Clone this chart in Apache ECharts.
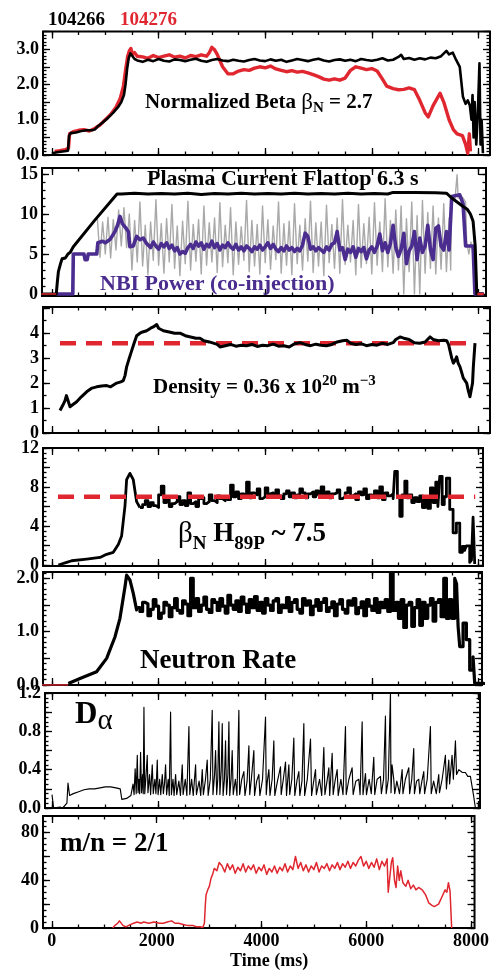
<!DOCTYPE html>
<html><head><meta charset="utf-8">
<script src="https://cdn.jsdelivr.net/npm/echarts@6/dist/echarts.min.js"></script>
<style>html,body{margin:0;padding:0;background:#fff}#c{width:492px;height:971px}</style>
</head><body><div id="c"></div>
<script>
// ---------------- DATA (time in ms) ----------------
const shotLabels = ['104266', '104276'];
const timeLabels = [0, 2000, 4000, 6000, 8000];
const betaLabels = [0, 1, 2, 3];
const ipLabels = [0, 5, 10, 15];
const neLabels = [0, 1, 2, 3, 4];
const bhLabels = [0, 4, 8, 12];
const neutLabels = [0, 1, 2];
const daLabels = [0, 0.4, 0.8, 1.2];
const mnLabels = [0, 40, 80];

// Panel 1: normalized beta
const beta66Head = [[0,0.05],[100,0.08],[200,0.1],[300,0.12],[320,0.55],[350,0.62],[450,0.64],[550,0.68],[650,0.7],[750,0.7],[800,0.72],[850,0.8],[950,0.92],[1050,1.05],[1150,1.2],[1250,1.38],[1300,1.5],[1350,1.7],[1380,2.0],[1410,2.45],[1440,2.75],[1470,2.88],[1500,2.82],[1550,2.72]];
const beta66FlatStart = 1600, beta66FlatStep = 100;
const beta66Flat = [2.68,2.64,2.70,2.66,2.72,2.67,2.65,2.71,2.69,2.66,2.70,2.73,2.67,2.64,2.69,2.72,2.68,2.66,2.70,2.67,2.65,2.69,2.72,2.68,2.66,2.71,2.67,2.70,2.64,2.68,2.72,2.69,2.66,2.70,2.73,2.68,2.65,2.69,2.71,2.67,2.70,2.66,2.72,2.69,2.67,2.70,2.74,2.68,2.70];
const beta66Tail = [[6500,2.78],[6550,2.84],[6600,2.72],[6700,2.75],[6800,2.70],[6900,2.74],[7000,2.71],[7100,2.76],[7200,2.74],[7300,2.8],[7400,2.95],[7450,2.85],[7520,2.9],[7580,2.7],[7650,2.5],[7710,1.65],[7760,1.45],[7800,1.55],[7840,1.4],[7870,1.0],[7890,1.7],[7910,0.5],[7930,1.5],[7960,0.3],[7990,1.2],[8020,2.6],[8040,0.3],[8060,1.0],[8085,0.05]];
const beta76Head = [[50,0.1],[150,0.12],[250,0.15],[310,0.2],[330,0.6],[400,0.66],[500,0.7],[600,0.72],[700,0.68],[800,0.75],[900,0.85],[1000,1.0],[1100,1.15],[1200,1.35],[1280,1.6],[1340,1.95],[1380,2.4],[1420,2.8],[1450,2.95],[1480,3.02],[1510,2.85],[1550,2.9],[1600,2.8]];
const beta76FlatStart = 1700, beta76FlatStep = 100;
const beta76Flat = [2.78,2.74,2.82,2.76,2.80,2.84,2.77,2.80,2.75,2.82,2.79,2.84,2.80];
const beta76Tail = [[2950,2.9],[3000,3.05],[3050,2.98],[3100,2.85],[3200,2.5],[3300,2.3],[3400,2.3],[3500,2.38],[3600,2.42],[3700,2.40],[3800,2.46],[3900,2.50],[4000,2.47],[4100,2.52],[4200,2.44],[4300,2.40],[4400,2.36],[4500,2.39],[4600,2.35],[4700,2.37],[4800,2.33],[4900,2.28],[5000,2.22],[5100,2.15],[5200,2.12],[5300,2.16],[5400,2.12],[5500,2.18],[5600,2.40],[5700,2.50],[5800,2.46],[5900,2.42],[6000,2.45],[6100,2.38],[6200,2.15],[6280,1.95],[6400,1.88],[6500,1.85],[6600,1.86],[6700,1.9],[6800,1.85],[6900,1.55],[7000,1.2],[7060,1.08],[7150,1.4],[7280,1.75],[7350,1.5],[7450,1.0],[7530,0.72],[7600,0.6],[7700,0.55],[7760,0.3],[7800,0.05],[7830,0.6],[7850,0.1]];

// Panel 2: plasma current (black), NBI raw (gray), NBI smoothed (purple)
const ipHead = [[-200,0],[80,0],[100,1.5],[120,2.8],[160,3.8],[190,4.4],[220,4.6],[250,4.5],[300,5.0],[340,5.2],[400,5.9],[800,9.2],[1220,12.5]];
const ipFlatStart = 1300, ipFlatStep = 250;
const ipFlat = [12.5,12.6,12.5,12.55,12.5,12.6,12.45,12.55,12.5,12.6,12.5,12.55,12.5,12.6,12.5,12.55,12.5,12.6,12.5,12.55,12.5];
const ipTail = [[6400,12.7],[6800,12.7],[7200,12.65],[7400,12.6],[7500,12.0],[7600,11.5],[7700,11.0],[7790,10.6],[7850,10.0],[7900,9.1],[7940,6.0],[7970,0],[8100,0]];
const nbiRawStart = 850, nbiRawStep = 50;
const nbiRaw = [9.5,4.6,9.0,5.0,9.6,4.5,9.3,5.5,10.5,6.0,10.8,5.8,10.0,
3.0,9.2,4.0,11.5,3.5,8.6,2.4,9.0,4.2,11.8,
3.6,8.8,2.6,9.4,4.0,11.2,3.2,8.5,2.3,9.1,
3.8,11.6,3.0,8.7,4.1,9.3,2.5,11.0,3.6,8.9,
4.0,9.5,2.7,11.4,3.4,8.6,3.9,10.8,2.4,9.0,
3.7,8.4,4.2,11.7,2.8,9.2,3.5,8.7,2.5,11.0,
3.9,9.3,3.1,8.5,4.3,11.5,2.6,8.8,3.6,9.1,
2.4,11.3,3.8,8.6,3.0,9.4,4.1,11.6,2.7,8.9,
3.5,9.0,2.3,11.1,3.9,8.7,3.2,9.5,2.6,11.8,
3.7,8.6,4.0,9.2,2.4,11.2,3.3,8.8,3.8,9.6,
2.5,11.4,3.6,9.0,2.8,11.9,3.4,9.2,2.6,10.5,
3.0,11.0,0.0,9.4,2.8,11.5,0.0,9.8,0.0,11.7,
2.6,10.2,3.2,11.0,2.5,9.5,3.1,11.3,2.8,9.5];
const nbiRawTail = [[7480,3.0],[7500,12.0],[7560,11.8],[7600,14.9],[7620,12.0],[7700,12.1],[7760,11.5],[7780,6.5],[7820,5.0],[7860,6.5],[7900,5.0],[7930,0]];
const nbiHead = [[80,0],[390,0],[400,5.0],[600,5.0],[620,4.3],[660,4.3],[680,5.0],[840,5.0],[860,6.4],[950,6.6],[1000,6.4],[1087,6.8],[1181,7.8],[1230,8.6],[1275,9.7],[1320,8.8],[1380,8.3],[1431,7.8],[1462,5.9],[1525,6.0],[1587,7.2],[1650,6.8],[1712,7.0],[1775,6.3]];
const nbiStart = 1800, nbiStep = 50;
const nbiVals = [6.2,5.8,6.5,6.0,5.6,6.3,5.9,6.4,5.7,6.1,5.4,5.8,5.0,5.3,5.1,5.8,6.2,5.7,6.5,6.0,6.4,5.6,6.2,5.9,6.6,5.8,6.3,5.5,6.1,5.8,6.4,5.9,5.6,6.2,5.5,5.9,5.4,6.0,5.7,5.3,5.9,5.6,6.1,5.5,5.9,6.4,5.7,6.2,5.6,5.3,5.8,5.4,6.0,5.5,5.8,5.3,5.7,5.4,6.1,7.6,7.2,5.6,5.9,5.4,5.8,5.5,5.2,5.9,5.5,6.2,6.4,7.8,5.5,5.8,4.3,5.6,5.2,5.9,4.6,5.7,5.3,5.8,4.4,5.5,5.9,5.2,6.0,7.5,5.4,6.4,5.2,6.3,8.6,5.8,4.7,5.6,7.6,3.8,5.4,6.0,7.8,4.3,7.0,5.2,6.0,8.6,5.6,4.3,8.2,8.5,6.0,5.5,7.8,5.5];
const nbiTail = [[7500,12.2],[7650,12.4],[7712,11.3],[7760,6.0],[7900,6.0],[7935,0],[8100,0]];
const ipRedA = [[-200,0],[80,0]];
const ipRedB = [[7980,0],[8100,0]];

// Panel 3: density (10^19 m^-3)
const densityRef = 3.6;
const densityRefSpan = [150, 7940];
const density = [[150,0.9],[200,1.1],[244,1.3],[270,1.5],[306,1.45],[338,1.05],[400,1.15],[463,1.25],[550,1.45],[650,1.65],[750,1.8],[838,1.85],[930,1.88],[1026,1.9],[1100,1.85],[1213,2.0],[1290,2.05],[1338,2.1],[1370,2.3],[1400,2.65],[1450,3.0],[1495,3.3],[1540,3.6],[1589,3.9],[1650,4.0],[1700,4.05],[1776,4.1],[1850,4.2],[1900,4.25],[1964,4.35],[2000,4.2],[2089,4.1],[2200,4.05],[2300,4.0],[2401,4.0],[2500,3.9],[2600,3.85],[2700,3.8],[2777,3.8],[2850,3.7],[2950,3.65],[3027,3.6],[3100,3.55],[3152,3.45],[3250,3.5],[3350,3.55],[3450,3.48],[3550,3.52],[3650,3.5],[3750,3.55],[3850,3.47],[3950,3.52],[4050,3.5],[4150,3.56],[4250,3.48],[4350,3.5],[4450,3.45],[4550,3.58],[4650,3.62],[4750,3.55],[4850,3.5],[4950,3.56],[5050,3.52],[5150,3.5],[5250,3.55],[5350,3.65],[5450,3.7],[5528,3.72],[5600,3.6],[5700,3.55],[5800,3.58],[5900,3.5],[6000,3.55],[6100,3.52],[6200,3.6],[6300,3.55],[6400,3.62],[6450,3.75],[6529,3.85],[6600,3.8],[6700,3.75],[6800,3.62],[6900,3.6],[7000,3.65],[7092,3.85],[7150,3.75],[7250,3.7],[7350,3.72],[7405,3.7],[7440,3.55],[7467,3.3],[7500,3.0],[7530,2.8],[7560,2.9],[7592,3.05],[7620,2.8],[7655,2.65],[7690,2.4],[7717,2.2],[7750,2.1],[7780,2.0],[7810,1.7],[7842,1.45],[7870,1.5],[7890,2.0],[7905,2.65],[7936,3.6]];

// Panel 4: betaN * H89P
const bhRef = 7.0;
const bhRefSpan = [113, 7940];
const bhHead = [[119,0],[275,0.27],[369,0.44],[650,0.61],[900,0.78],[1025,1.1],[1150,1.3],[1244,2.1],[1306,2.98],[1369,6.04],[1400,8.75],[1462,9.4],[1525,8.75],[1587,6.5],[1650,5.9]];
const bhStart = 1650, bhStep = 50;
const bhVals = [5.9,6.2,6.6,6.0,6.4,6.1,5.9,7.2,8.1,6.4,
6.7,6.0,6.3,6.5,7.0,6.2,6.6,6.1,7.4,6.3,
6.5,6.0,6.8,6.9,6.3,6.5,7.2,6.6,6.4,7.1,
6.8,6.6,7.0,6.7,8.2,7.0,7.5,6.8,7.3,7.1,
8.5,6.9,7.4,7.2,7.8,6.8,7.0,7.9,7.3,7.4,
7.0,7.7,7.1,6.8,7.3,7.6,7.0,7.4,6.9,7.2,
7.8,7.4,6.9,7.3,7.5,7.0,7.6,7.2,8.0,7.1,
7.5,6.9,7.3,7.4,7.7,6.8,7.0,7.4,7.9,7.1,
7.3,6.7,7.5,7.2,7.8,6.8,7.2,7.0,7.6,6.9,
8.0,6.7,7.4,7.1,7.3,6.8];
const bhTail = [[6431,9.6],[6480,7.0],[6525,5.0],[6570,7.2],[6619,8.6],[6660,6.9],[6700,7.2],[6750,6.4],[6800,6.9],[6850,6.5],[6900,7.1],[6950,5.9],[7000,6.8],[7050,5.8],[7100,7.9],[7150,6.4],[7200,8.5],[7240,6.0],[7275,9.1],[7320,6.2],[7360,7.0],[7400,8.9],[7462,5.7],[7525,3.3],[7587,4.3],[7650,1.3],[7700,1.9],[7740,1.5],[7775,1.97],[7837,0.27],[7870,0.5],[7900,4.9],[7931,0.1]];

// Panel 5: neutron rate
const neutRed = [[-200,0],[300,0]];
const neutHead = [[306,0.03],[525,0.12],[837,0.25],[1025,0.5],[1181,0.9],[1275,1.25],[1369,1.84],[1400,2.06],[1462,1.97],[1525,1.72],[1587,1.41],[1600,1.45]];
const neutStart = 1600, neutStep = 50;
const neutVals = [1.45,1.38,1.55,1.52,1.3,1.42,1.6,1.48,1.25,1.35,
1.55,1.5,1.28,1.45,1.62,1.4,1.35,1.58,1.52,1.3,
2.0,1.45,1.62,1.38,1.5,1.65,1.42,1.36,1.6,1.55,
1.4,1.62,1.48,1.35,1.68,1.5,1.42,1.58,1.38,1.65,
1.52,1.36,1.6,1.45,1.66,1.4,1.55,1.35,1.62,1.5,
1.4,1.58,1.62,1.36,1.5,1.45,1.64,1.38,1.55,1.6,
1.42,1.35,1.62,1.5,1.58,1.32,1.48,1.6,1.4,1.55,
1.62,1.38,1.45,1.56,1.3,1.52,1.6,1.42,1.35,1.58,
1.5,1.62,1.34,1.45,1.56,1.3,1.6,1.48,1.4,1.62,
1.36,1.55,1.45,1.6,1.38,2.1,1.4,1.55,1.25,1.6,
1.08,1.5,1.55,1.1,1.45,1.6,1.12,1.55,1.25,1.5,
1.62,1.2,1.55,1.6,1.28,2.0,1.25,1.6];
const neutTail = [[7500,1.25],[7556,2.0],[7590,1.9],[7619,1.1],[7650,0.72],[7712,1.16],[7775,0.85],[7837,0.28],[7900,0.53],[7931,0.03],[8100,0.0]];

// Panel 6: D-alpha
const dalpha = [[0,0.14],[30,0.0],[150,0.01],[200,0.0],[280,0.05],[300,0.26],[330,0.13],[400,0.15],[500,0.17],[600,0.19],[700,0.2],[800,0.2],[900,0.21],[1000,0.22],[1100,0.22],[1200,0.21],[1280,0.2],[1310,0.09],[1400,0.1],[1480,0.13],[1520,0.25],[1540,0.14],[1560,0.41],[1580,0.15],[1600,0.55],[1615,0.16],[1630,0.3],[1645,0.15],[1662,0.58],[1680,0.16],[1700,0.35],[1712,0.15],[1725,1.05],[1740,0.15],[1760,0.3],[1787,0.55],[1800,0.16],[1830,0.35],[1850,0.14],[1881,0.45],[1900,0.15],[1930,0.3],[1950,0.15],[1975,0.5],[1990,0.14],[2020,0.3],[2040,0.14],[2069,0.35],[2090,0.15],[2110,0.25],[2131,0.45],[2150,0.14],[2180,0.3],[2200,0.13],[2225,1.0],[2240,0.14],[2270,0.3],[2290,0.13],[2319,0.35],[2340,0.14],[2380,0.28],[2410,0.13],[2444,0.45],[2460,0.14],[2500,0.3],[2530,0.13],[2569,0.85],[2585,0.14],[2620,0.3],[2650,0.13],[2694,0.45],[2710,0.14],[2760,0.28],[2790,0.13],[2819,0.4],[2840,0.14],[2880,0.3],[2912,0.5],[2930,0.13],[2970,0.3],[3006,1.02],[3020,0.14],[3050,0.35],[3069,0.6],[3090,0.14],[3110,0.3],[3131,0.9],[3150,0.14],[3175,0.4],[3194,0.88],[3210,0.13],[3235,0.3],[3256,0.7],[3275,0.14],[3300,0.35],[3319,0.9],[3335,0.13],[3360,0.3],[3381,0.6],[3400,0.14],[3440,0.3],[3470,0.13],[3506,1.02],[3520,0.14],[3560,0.3],[3600,0.38],[3620,0.13],[3660,0.28],[3694,0.65],[3710,0.14],[3740,0.3],[3787,0.6],[3800,0.13],[3840,0.28],[3881,0.35],[3900,0.13],[3950,0.3],[4006,0.95],[4020,0.14],[4040,0.28],[4069,0.4],[4090,0.13],[4130,0.3],[4162,0.7],[4180,0.13],[4230,0.28],[4287,0.43],[4300,0.14],[4340,0.3],[4381,0.48],[4400,0.13],[4444,0.45],[4460,0.14],[4500,0.3],[4537,0.73],[4555,0.13],[4600,0.3],[4631,0.38],[4650,0.13],[4690,0.28],[4725,0.88],[4740,0.13],[4790,0.3],[4850,0.72],[4870,0.13],[4910,0.28],[4944,0.4],[4960,0.14],[5020,0.3],[5060,0.13],[5100,0.63],[5120,0.14],[5160,0.28],[5194,0.42],[5210,0.13],[5256,0.57],[5275,0.14],[5310,0.28],[5350,0.4],[5370,0.13],[5420,0.3],[5460,0.14],[5506,0.85],[5520,0.14],[5570,0.3],[5631,0.42],[5650,0.14],[5700,0.28],[5756,0.3],[5780,0.14],[5819,0.9],[5835,0.14],[5881,0.36],[5900,0.14],[5950,0.3],[5990,0.15],[6037,0.53],[6055,0.14],[6100,0.3],[6162,0.33],[6180,0.15],[6220,0.3],[6256,0.96],[6270,0.15],[6310,0.3],[6350,1.2],[6360,0.16],[6380,0.45],[6412,0.3],[6430,0.15],[6470,0.28],[6506,0.3],[6520,0.15],[6569,0.4],[6585,0.15],[6630,0.3],[6694,0.42],[6710,0.15],[6750,0.3],[6787,0.62],[6800,0.15],[6840,0.28],[6881,0.3],[6900,0.15],[6940,0.28],[6975,0.38],[6990,0.15],[7040,0.3],[7100,0.85],[7115,0.15],[7160,0.28],[7194,0.3],[7210,0.15],[7256,0.35],[7270,0.16],[7320,0.3],[7381,0.55],[7400,0.2],[7444,0.5],[7460,0.25],[7506,0.55],[7530,0.3],[7569,0.7],[7590,0.35],[7631,0.4],[7700,0.37],[7756,0.37],[7800,0.33],[7850,0.33],[7912,0.12],[7944,0.0]];

// Panel 7: m/n = 2/1 mode amplitude
const mnHead = [[1162,0],[1200,2],[1256,4],[1290,6],[1319,5],[1360,2],[1412,1],[1460,2],[1506,3],[1560,4],[1631,5],[1700,4],[1756,5],[1850,4],[1950,5],[2050,4],[2131,4],[2200,5],[2287,6],[2350,4],[2420,4],[2506,3],[2600,2],[2700,2],[2756,1],[2830,1],[2881,0.5],[2912,4],[2930,20],[2944,28],[2975,32],[3006,35],[3040,42],[3069,45],[3100,50],[3150,48],[3194,55]];
const mnStart = 3250, mnStep = 50;
const mnVals = [52,47,54,49,53,46,51,48,54,47,52,49,53,46,51,48,53,45,50,47,52,46,51,48,54,47,52,49,60,50,55,48,53,47,52,49,55,47,52,50,54,48,53,50,55,49,54,51,56,50,55,52,57,60,52,56,50,55,51,58,49,56,52,58];
const mnTail = [[6400,56],[6420,30],[6444,29],[6480,55],[6506,59],[6540,40],[6569,34],[6600,52],[6631,40],[6660,48],[6700,38],[6756,35],[6800,40],[6850,33],[6900,36],[6950,32],[7000,34],[7069,32],[7100,30],[7131,28],[7160,25],[7194,21],[7256,19],[7300,18],[7381,20],[7444,26],[7506,32],[7540,30],[7569,38],[7600,31],[7631,0]];

// ---------------- BUILD ----------------
function sampled(start, step, vals) { return vals.map((v, i) => [start + i * step, v]); }
const FF = '"Liberation Serif","Times New Roman",serif';
const RED = '#e0262f', PURPLE = '#4a2d8f', GRAY = '#a9a9a9';

const layout = [
  {l:43, r:490, t:31.5, b:155, ymin:0, ymax:3.5, lab:betaLabels, dec:1, maj:0.5, mnr:0.1},
  {l:42, r:486, t:168, b:296, ymin:-0.25, ymax:15.75, lab:ipLabels, dec:0, maj:5, mnr:1},
  {l:43, r:490, t:307, b:433, ymin:0, ymax:5.05, lab:neLabels, dec:0, maj:1, mnr:0.5},
  {l:43, r:483, t:448, b:566, ymin:-0.1, ymax:12, lab:bhLabels, dec:0, maj:2, mnr:0.5},
  {l:43, r:482, t:572, b:685, ymin:0, ymax:2.12, lab:neutLabels, dec:1, maj:0.5, mnr:0.1},
  {l:45, r:480, t:693, b:808, ymin:0, ymax:1.2, lab:daLabels, dec:1, maj:0.2, mnr:0.05},
  {l:43, r:482, t:816, b:928, ymin:0, ymax:94, lab:mnLabels, dec:0, maj:20, mnr:5}
];
const X0PX = 52, PX_PER_MS = 0.0533;
function tickList(a, b, s) { const out = []; const k0 = Math.ceil(a / s - 1e-9); for (let k = k0; k * s <= b + 1e-9; k++) out.push(+(k * s).toFixed(6)); return out; }

const grids = [], xAxes = [], yAxes = [], series = [];
const axX = [], axY = [];
layout.forEach((p, i) => {
  grids.push({left:p.l, top:p.t, width:p.r - p.l, height:p.b - p.t, show:true, borderColor:'#000', borderWidth:2, backgroundColor:'rgba(0,0,0,0)', containLabel:false});
  const xmin = (p.l - X0PX) / PX_PER_MS, xmax = (p.r - X0PX) / PX_PER_MS;
  const xMaj = tickList(xmin, xmax, 2000), xMin = tickList(xmin, xmax, 500);
  const yMaj = tickList(p.ymin, p.ymax, p.maj), yMin = tickList(p.ymin, p.ymax, p.mnr);
  const last = i === layout.length - 1;
  axX.push(xAxes.length);
  [['bottom', xMaj, 7, true], ['bottom', xMin, 3.5, false], ['top', xMaj, 7, false], ['top', xMin, 3.5, false]].forEach(([pos, ticks, len, lab]) => {
    xAxes.push({type:'value', gridIndex:i, min:xmin, max:xmax, position:pos,
      axisLine:{show:false, onZero:false}, splitLine:{show:false},
      axisTick:{show:true, inside:true, length:len, customValues:ticks, lineStyle:{color:'#000', width:1.3}},
      axisLabel:{show: lab && last, customValues: timeLabels, margin:4, fontFamily:FF, fontWeight:'bold', fontSize:18, color:'#000', formatter: v => String(v)}});
  });
  axY.push(yAxes.length);
  [['left', yMaj, 7, true], ['left', yMin, 3.5, false], ['right', yMaj, 7, false], ['right', yMin, 3.5, false]].forEach(([pos, ticks, len, lab]) => {
    yAxes.push({type:'value', gridIndex:i, min:p.ymin, max:p.ymax, position:pos,
      axisLine:{show:false, onZero:false}, splitLine:{show:false},
      axisTick:{show:true, inside:true, length:len, customValues:ticks, lineStyle:{color:'#000', width:1.3}},
      axisLabel:{show: lab, customValues: p.lab, margin:4, fontFamily:FF, fontWeight:'bold', fontSize:18, color:'#000', formatter: v => Number(v).toFixed(p.dec)}});
  });
});
function line(pi, data, color, width, z, extra) {
  series.push(Object.assign({type:'line', xAxisIndex:axX[pi], yAxisIndex:axY[pi], data:data, showSymbol:false, symbol:'none',
    animation:false, silent:true, z:z, lineStyle:{color:color, width:width, join:'round'}}, extra || {}));
}
// Panel 1
line(0, beta76Head.concat(sampled(beta76FlatStart, beta76FlatStep, beta76Flat), beta76Tail), RED, 3.4, 2);
line(0, beta66Head.concat(sampled(beta66FlatStart, beta66FlatStep, beta66Flat), beta66Tail), '#000', 2.6, 3);
// Panel 2
line(1, sampled(nbiRawStart, nbiRawStep, nbiRaw).concat(nbiRawTail), GRAY, 1.4, 2);
line(1, nbiHead.concat(sampled(nbiStart, nbiStep, nbiVals), nbiTail), PURPLE, 3.6, 3);
line(1, ipHead.concat(sampled(ipFlatStart, ipFlatStep, ipFlat), ipTail), '#000', 3, 4);
line(1, ipRedA, RED, 1.5, 5);
line(1, ipRedB, RED, 2.5, 5);
// Panel 3
line(2, [[densityRefSpan[0], densityRef], [densityRefSpan[1], densityRef]], RED, 4.5, 2, {lineStyle:{color:RED, width:4.5, type:[16,10]}});
line(2, density, '#000', 3, 3);
// Panel 4
line(3, [[bhRefSpan[0], bhRef], [bhRefSpan[1], bhRef]], RED, 4.5, 4, {lineStyle:{color:RED, width:4.5, type:[16,10]}});
line(3, bhHead, '#000', 2.8, 3);
line(3, sampled(bhStart, bhStep, bhVals).concat(bhTail), '#000', 2.8, 3, {step:'end'});
// Panel 5
line(4, neutRed, RED, 1.5, 2);
line(4, neutHead, '#000', 3.2, 3);
line(4, sampled(neutStart, neutStep, neutVals).concat(neutTail), '#000', 3.2, 3, {step:'end'});
// Panel 6
line(5, dalpha, '#000', 1.15, 3);
// Panel 7
line(6, mnHead.concat(sampled(mnStart, mnStep, mnVals), mnTail), RED, 1.5, 3);

// ---------------- TEXT ----------------
function rt(x, yTop, text, rich) {
  return {type:'text', left:x, top:yTop, z:100, silent:true,
    style:{text:text, rich:rich, fill:'#000', font:'bold 20px ' + FF}};
}
function R(size, weight, color, pad) {
  const o = {fontFamily:FF, fontSize:size, fontWeight:weight || 'bold', fill:color || '#000'};
  if (pad) o.padding = pad;
  return o;
}
const graphics = [
  rt(48, 11, '{a|' + shotLabels[0] + '}', {a:R(19)}),
  rt(120, 11, '{a|' + shotLabels[1] + '}', {a:R(19, 'bold', RED)}),
  rt(145, 91, '{m|Normalized Beta }{g|β}{s|N}{m| = 2.7}', {m:R(21), g:R(23, 'normal'), s:R(15, 'bold', '#000', [12,0,0,0])}),
  rt(147, 168, '{m|Plasma Current Flattop 6.3 s}', {m:R(22)}),
  rt(100, 273, '{m|NBI Power (co-injection)}', {m:R(22, 'bold', PURPLE)}),
  rt(153, 374, '{m|Density = 0.36 x 10}{p|20}{m| m}{p|−3}', {m:R(21), p:R(15, 'bold', '#000', [0,0,12,0])}),
  rt(178, 520, '{g|β}{s|N}{m| H}{s|89P}{m| ~ 7.5}', {m:R(27), g:R(29, 'normal'), s:R(19, 'bold', '#000', [20,0,0,0])}),
  rt(140, 648, '{m|Neutron Rate}', {m:R(27)}),
  rt(75, 699, '{m|D}{g|α}', {m:R(31), g:R(29, 'normal', '#000', [14,0,0,0])}),
  rt(60, 831, '{m|m/n = 2/1}', {m:R(27)}),
  rt(230, 952, '{m|Time (ms)}', {m:R(18)})
];

const chart = echarts.init(document.getElementById('c'), null, {renderer:'canvas', width:492, height:971});
chart.setOption({animation:false, backgroundColor:'#fff', grid:grids, xAxis:xAxes, yAxis:yAxes, series:series, graphic:graphics});
</script>
</body></html>
